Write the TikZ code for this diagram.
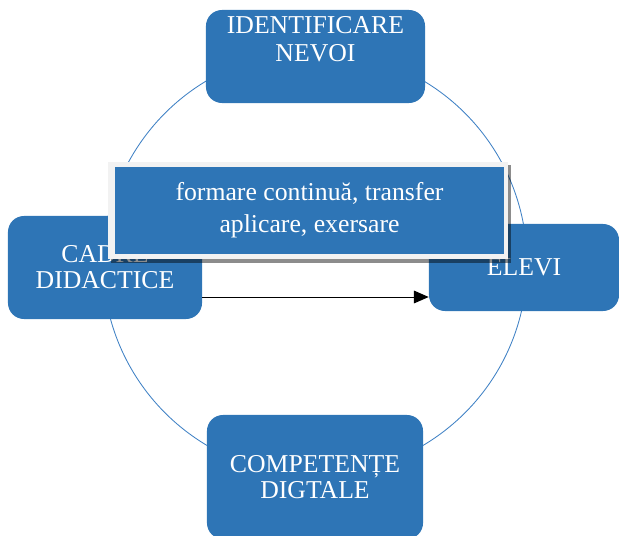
\documentclass[tikz,border=0pt]{standalone}
\usepackage{fontspec}
\setmainfont{Liberation Serif}
\usepackage{xcolor}
\usetikzlibrary{positioning, arrows.meta}

\definecolor{boxblue}{HTML}{2E75B6}
\definecolor{ringblue}{HTML}{3E80C4}
\definecolor{framegray}{HTML}{F2F2F2}

\begin{document}
\begin{tikzpicture}[x=0.025cm, y=-0.025cm,
    every node/.style={font=\fontsize{18.3}{18.5}\selectfont, text=white, align=center},
    stagebox/.style={fill=boxblue, rounded corners=0.4cm, inner sep=0pt}]
  \useasboundingbox (0,0) rectangle (619,536);
  \clip (0,0) rectangle (619,536);
  % cercul
  \draw[ringblue, line width=0.6pt] (315,263) circle[radius=212];
  % etapele
  \node[stagebox, minimum width=5.475cm, minimum height=2.325cm] (nevoi) at (315.5,56.5) {};
  \node[anchor=north, inner sep=0pt, font=\fontsize{18.3}{20}\selectfont] (nevoitxt) at (315.5,16) {IDENTIFICARE\\NEVOI};
  \node[stagebox, minimum width=4.85cm, minimum height=2.575cm] (cadre) at (105,267.5) {CADRE\\DIDACTICE};
  \node[stagebox, minimum width=4.75cm, minimum height=2.175cm] (elevi) at (524,267.5) {ELEVI};
  \node[stagebox, minimum width=5.4cm, minimum height=3.1cm] (comp) at (315,477) {COMPETENȚE\\DIGTALE};
  % sageata
  \draw[line width=0.7pt, -{Triangle[length=10.5pt, width=9pt]}]
    ([yshift=-0.7375cm]cadre.east) -- ([yshift=-0.7375cm]cadre.east -| elevi.west);
  % caseta din mijloc
  \fill[black, fill opacity=0.45] (111,165) rectangle (511,263);
  \node[fill=framegray, minimum width=10cm, minimum height=2.425cm, inner sep=0pt] (frame) at (308,210.5) {};
  \node[fill=boxblue, minimum width=9.725cm, minimum height=2.175cm, inner sep=0pt,
        font=\fontsize{18.3}{22.8}\selectfont] (proces) at (309.5,210.5)
    {formare continuă, transfer\\aplicare, exersare};
\end{tikzpicture}
\end{document}
